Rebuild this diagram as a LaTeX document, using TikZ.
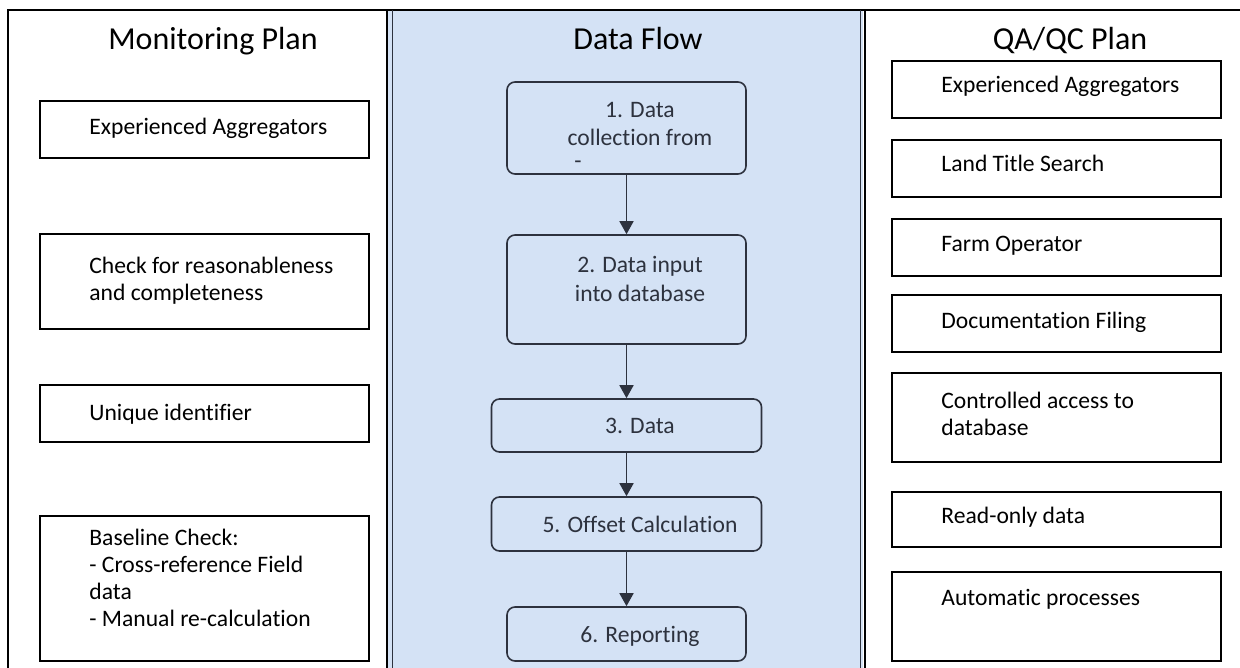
\documentclass[tikz,border=0pt]{standalone}
\usepackage{fontspec}
\setmainfont{Carlito}[Ligatures=NoCommon]
\usetikzlibrary{arrows.meta}

\definecolor{flowbg}{RGB}{212,226,245}
\definecolor{flowink}{RGB}{45,50,62}

\begin{document}
\begin{tikzpicture}[x=0.5pt,y=-0.5pt,
    plan/.style={draw,line width=1pt,minimum width=164.5pt,anchor=north west,inner sep=0pt},
    flowbox/.style={draw=flowink,line width=0.8pt,rounded corners=4pt,inner sep=0pt},
    txt/.style={anchor=base west,inner sep=0pt,align=left,font=\fontsize{11.8}{13.5}\selectfont},
    ftxt/.style={anchor=base,inner sep=0pt,align=center,text=flowink,font=\fontsize{11.8}{14.3}\selectfont},
    head/.style={anchor=base,inner sep=0pt,font=\fontsize{16}{19}\selectfont},
    flowarrow/.style={draw=flowink,line width=0.8pt,-{Triangle[length=6.5pt,width=7pt]}}]

    \useasboundingbox (0,0) rectangle (1240,668);
    \clip (0,0) rectangle (1240,668);

    % panels
    \fill[flowbg] (387,10) rectangle (863,700);
    \draw[line width=1pt] (8,700)--(8,10)--(1260,10);
    \draw[line width=1pt] (387,10)--(387,700);
    \draw[flowink,line width=0.5pt] (392,10)--(392,700);
    \draw[flowink,line width=0.8pt] (860.5,10)--(860.5,700);
    \draw[line width=1pt] (865,10)--(865,700);

    \node[head] (mp) at (213,50) {Monitoring Plan};
    \node[head] (df) at (638,50) {Data Flow};
    \node[head] (qa) at (1070,50) {QA/QC Plan};

    % Monitoring Plan (base = last line)
    \node[plan,minimum height=28.5pt] (mp1) at (39,100) {};
    \node[plan,minimum height=47.5pt] (mp2) at (39,233) {};
    \node[plan,minimum height=28.5pt] (mp3) at (39,384) {};
    \node[plan,minimum height=72.5pt] (mp4) at (39,515) {};

    \node[txt] (mp1t) at (89,135) {Experienced Aggregators};
    \node[txt] (mp2t) at (89,300) {Check for reasonableness\\and completeness};
    \node[txt] (mp3t) at (89,420) {Unique identifier};
    \node[txt] (mp4t) at (89,626) {Baseline Check:\\- Cross-reference Field\\data\\- Manual re-calculation};

    % Data Flow
    \node[flowbox,minimum width=119.5pt,minimum height=46pt] (f1) at (626.5,128) {};
    \node[flowbox,minimum width=119.5pt,minimum height=54.5pt] (f2) at (626.5,289.5) {};
    \node[flowbox,minimum width=135pt,minimum height=26.5pt] (f3) at (626.5,425.5) {};
    \node[flowbox,minimum width=135pt,minimum height=27pt] (f5) at (626.5,524) {};
    \node[flowbox,minimum width=119.5pt,minimum height=27pt] (f6) at (626.5,634) {};

    \node[ftxt] (f1t) at (640,146) {1. Data\\collection from};
    \node[txt,text=flowink] (f1d) at (574,169) {-};
    \node[ftxt] (f2t) at (640,301) {2. Data input\\into database};
    \node[ftxt] (f3t) at (640,433) {3. Data};
    \node[ftxt] (f5t) at (640,532) {5. Offset Calculation};
    \node[ftxt] (f6t) at (640,642) {6. Reporting};

    \draw[flowarrow] (f1.south)--(f2.north);
    \draw[flowarrow] (f2.south)--(f3.north);
    \draw[flowarrow] (f3.south)--(f5.north);
    \draw[flowarrow] (f5.south)--(f6.north);

    % QA/QC Plan
    \node[plan,minimum height=28.5pt] (qa1) at (891,60) {};
    \node[plan,minimum height=28.5pt] (qa2) at (891,139) {};
    \node[plan,minimum height=28.5pt] (qa3) at (891,218) {};
    \node[plan,minimum height=28.5pt] (qa4) at (891,294) {};
    \node[plan,minimum height=44.5pt] (qa5) at (891,372) {};
    \node[plan,minimum height=27.5pt] (qa6) at (891,491) {};
    \node[plan,minimum height=44.5pt] (qa7) at (891,571) {};

    \node[txt] (qa1t) at (941,93) {Experienced Aggregators};
    \node[txt] (qa2t) at (941,172) {Land Title Search};
    \node[txt] (qa3t) at (941,251) {Farm Operator};
    \node[txt] (qa4t) at (941,328) {Documentation Filing};
    \node[txt] (qa5t) at (941,435) {Controlled access to\\database};
    \node[txt] (qa6t) at (941,523) {Read-only data};
    \node[txt] (qa7t) at (941,605) {Automatic processes};
\end{tikzpicture}
\end{document}
